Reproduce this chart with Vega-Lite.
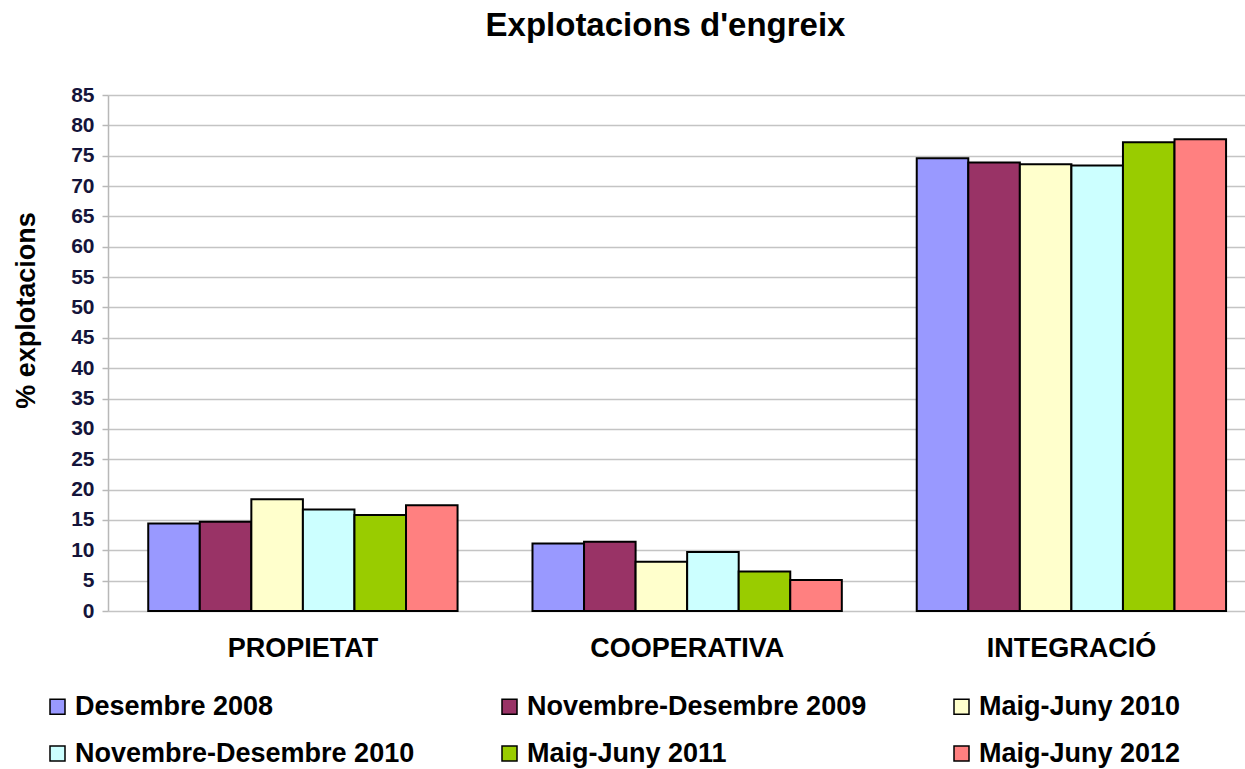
{
  "$schema": "https://vega.github.io/schema/vega-lite/v6.json",
  "autosize": "none",
  "width": 1137,
  "height": 516,
  "padding": {"left": 108, "top": 95, "right": 0, "bottom": 158},
  "background": "white",
  "title": {
    "text": "Explotacions d'engreix",
    "font": "Liberation Sans",
    "fontSize": 33,
    "fontWeight": "bold",
    "color": "#000000",
    "anchor": "middle",
    "offset": 41,
    "dx": -11
  },
  "data": {
    "values": [
      {"cat": "PROPIETAT", "periode": "Desembre 2008", "valor": 14.4},
      {"cat": "PROPIETAT", "periode": "Novembre-Desembre 2009", "valor": 14.7},
      {"cat": "PROPIETAT", "periode": "Maig-Juny 2010", "valor": 18.4},
      {"cat": "PROPIETAT", "periode": "Novembre-Desembre 2010", "valor": 16.7},
      {"cat": "PROPIETAT", "periode": "Maig-Juny 2011", "valor": 15.8},
      {"cat": "PROPIETAT", "periode": "Maig-Juny 2012", "valor": 17.4},
      {"cat": "COOPERATIVA", "periode": "Desembre 2008", "valor": 11.1},
      {"cat": "COOPERATIVA", "periode": "Novembre-Desembre 2009", "valor": 11.4},
      {"cat": "COOPERATIVA", "periode": "Maig-Juny 2010", "valor": 8.1},
      {"cat": "COOPERATIVA", "periode": "Novembre-Desembre 2010", "valor": 9.7},
      {"cat": "COOPERATIVA", "periode": "Maig-Juny 2011", "valor": 6.5},
      {"cat": "COOPERATIVA", "periode": "Maig-Juny 2012", "valor": 5.1},
      {"cat": "INTEGRACIÓ", "periode": "Desembre 2008", "valor": 74.6},
      {"cat": "INTEGRACIÓ", "periode": "Novembre-Desembre 2009", "valor": 73.9},
      {"cat": "INTEGRACIÓ", "periode": "Maig-Juny 2010", "valor": 73.6},
      {"cat": "INTEGRACIÓ", "periode": "Novembre-Desembre 2010", "valor": 73.4},
      {"cat": "INTEGRACIÓ", "periode": "Maig-Juny 2011", "valor": 77.2},
      {"cat": "INTEGRACIÓ", "periode": "Maig-Juny 2012", "valor": 77.7}
    ]
  },
  "mark": {"type": "bar", "stroke": "#000000", "strokeWidth": 2},
  "encoding": {
    "x": {
      "field": "cat",
      "type": "nominal",
      "sort": null,
      "scale": {"paddingInner": 0.195, "paddingOuter": 0.077, "align": 0.68},
      "axis": {
        "title": null,
        "labelAngle": 0,
        "labelFont": "Liberation Sans",
        "labelFontSize": 27,
        "labelFontWeight": "bold",
        "labelColor": "#000000",
        "labelPadding": 24,
        "labelLimit": 400,
        "domain": false,
        "ticks": false
      }
    },
    "xOffset": {
      "field": "periode",
      "type": "nominal",
      "sort": null,
      "scale": {"paddingInner": 0, "paddingOuter": 0}
    },
    "y": {
      "field": "valor",
      "type": "quantitative",
      "scale": {"domain": [0, 85], "nice": false},
      "axis": {
        "title": "% explotacions",
        "titleFont": "Liberation Sans",
        "titleFontSize": 27,
        "titleFontWeight": "bold",
        "titleColor": "#000000",
        "titleX": -68,
        "titleY": 215,
        "titleAngle": -90,
        "titleAlign": "center",
        "titleBaseline": "bottom",
        "values": [0, 5, 10, 15, 20, 25, 30, 35, 40, 45, 50, 55, 60, 65, 70, 75, 80, 85],
        "labelFont": "Liberation Sans",
        "labelFontSize": 21,
        "labelFontWeight": "bold",
        "labelColor": "#14143a",
        "labelPadding": 8,
        "tickSize": 6,
        "tickColor": "#b8b8b8",
        "tickWidth": 1.5,
        "domainColor": "#b8b8b8",
        "domainWidth": 1.5,
        "grid": true,
        "gridColor": "#c4c4c4",
        "gridWidth": 1.5
      }
    },
    "color": {
      "field": "periode",
      "type": "nominal",
      "sort": null,
      "scale": {
        "domain": ["Desembre 2008", "Novembre-Desembre 2009", "Maig-Juny 2010", "Novembre-Desembre 2010", "Maig-Juny 2011", "Maig-Juny 2012"],
        "range": ["#9999ff", "#993366", "#ffffcc", "#ccffff", "#99cc00", "#ff8080"]
      },
      "legend": {
        "title": null,
        "orient": "none",
        "legendX": -64,
        "legendY": 598,
        "direction": "horizontal",
        "columns": 3,
        "gridAlign": "all",
        "columnPadding": 81,
        "rowPadding": 19,
        "symbolType": "square",
        "symbolSize": 225,
        "symbolStrokeColor": "#000000",
        "symbolStrokeWidth": 1.5,
        "symbolOpacity": 1,
        "labelFont": "Liberation Sans",
        "labelFontSize": 27,
        "labelFontWeight": "bold",
        "labelColor": "#000000",
        "labelOffset": 4,
        "labelLimit": 600
      }
    }
  },
  "config": {
    "view": {"stroke": null}
  }
}
